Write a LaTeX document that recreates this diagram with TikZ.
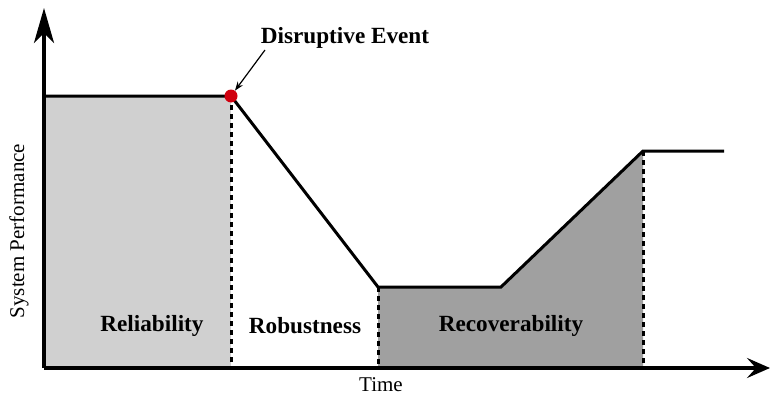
\documentclass[tikz,border=0pt]{standalone}
\usepackage{fontspec}
\setmainfont{Liberation Serif}
\usetikzlibrary{arrows.meta}
\definecolor{lightfill}{HTML}{D0D0D0}
\definecolor{darkfill}{HTML}{A0A0A0}
\definecolor{dotred}{HTML}{D0000F}
\tikzset{
  axisline/.style={line width=3.6pt},
  curveline/.style={line width=3pt, line join=miter},
  divider/.style={line width=3pt, dash pattern=on 5pt off 4pt},
  phaselabel/.style={font=\fontsize{23.2}{25}\selectfont\bfseries, anchor=center},
  axislabel/.style={font=\fontsize{21}{23}\selectfont, anchor=center}
}
\begin{document}
\begin{tikzpicture}[x=1pt,y=-1pt]
\useasboundingbox (0,0) rectangle (771,396);
% coordinates
\coordinate (O) at (44,368);
\coordinate (ytip) at (44,8);
\coordinate (xtip) at (770,368);
\coordinate (a) at (44,96);
\coordinate (b) at (231,96);
\coordinate (c) at (378,287);
\coordinate (d) at (501,287);
\coordinate (e) at (643,151);
\coordinate (f) at (724,151);
\coordinate (bb) at (231,368);
\coordinate (cb) at (378,368);
\coordinate (eb) at (643,368);
% fills
\fill[lightfill] (O) -- (a) -- (b) -- (bb) -- cycle;
\fill[darkfill] (cb) -- (c) -- (d) -- (e) -- (eb) -- cycle;
% dividers
\draw[divider] (b) -- (bb);
\draw[divider] (c) -- (cb);
\draw[divider] (e) -- (eb);
% curve
\draw[curveline] (a) -- (b) -- (c) -- (d) -- (e) -- (f);
% axes
\draw[axisline, -{Stealth[length=35pt, width=20pt, inset=10pt]}] (O) -- (ytip);
\draw[axisline, -{Stealth[length=23pt, width=20pt, inset=9pt]}] (O) -- (xtip);
% event
\node[circle, fill=dotred, inner sep=0pt, minimum size=13pt] (ev) at (b) {};
\node[phaselabel] (evlabel) at (345,38) {Disruptive Event};
\coordinate (arrstart) at (265,50);
\draw[line width=1.2pt, -{Stealth[length=9pt, width=6.5pt]}] (arrstart) -- (ev);
% labels
\node[phaselabel] (rel) at (152,326) {Reliability};
\node[phaselabel] (rob) at (305,326) {Robustness};
\node[phaselabel] (rec) at (511,326) {Recoverability};
\node[axislabel] (time) at (381,385) {Time};
\node[axislabel, rotate=90] (perf) at (19,231) {System Performance};
\end{tikzpicture}
\end{document}
